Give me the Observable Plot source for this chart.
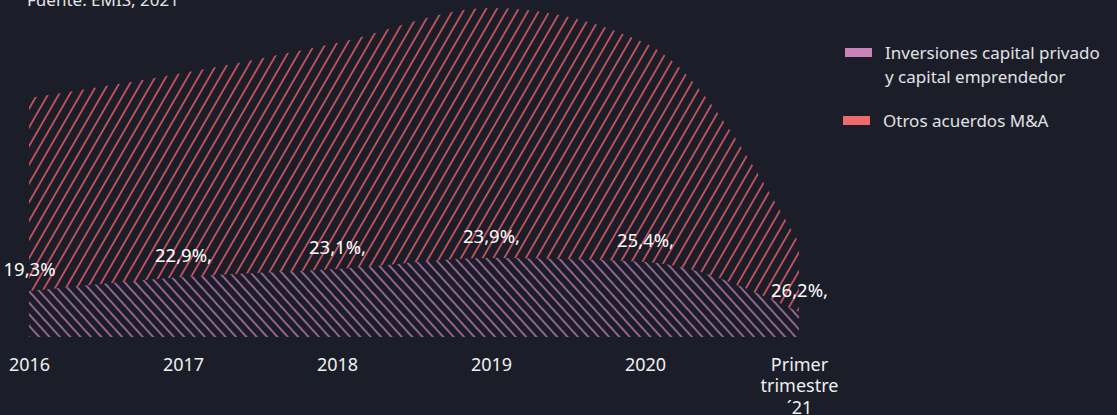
<!DOCTYPE html>
<html><head><meta charset="utf-8">
<script src="https://cdn.jsdelivr.net/npm/d3@7"></script>
<script src="https://cdn.jsdelivr.net/npm/@observablehq/plot@0.6"></script>
<style>
html,body{margin:0;padding:0;background:#1b1e29;}
#wrap{position:relative;width:1117px;height:415px;overflow:hidden;font-family:"Noto Sans",sans-serif;}
#sub{position:absolute;left:27px;top:-12px;font-size:17px;color:#e4e4e4;white-space:nowrap;}
.sw{position:absolute;width:27px;height:9px;}
.lg{position:absolute;font-size:17px;color:#e2e2e2;line-height:24px;white-space:nowrap;}
#chart{position:absolute;left:0;top:0;}
</style>
</head><body>
<div id="wrap">
  <div id="chart"></div>
  <div id="sub">Fuente: EMIS, 2021</div>
  <div class="sw" style="left:845px;top:48px;background:#c983b8"></div>
  <div class="lg" style="left:885px;top:41px">Inversiones capital privado<br>y capital emprendedor</div>
  <div class="sw" style="left:843px;top:116px;background:#ef6b6b"></div>
  <div class="lg" style="left:883px;top:109px">Otros acuerdos M&amp;A</div>
</div>
<script>
const periods = ["2016", "2017", "2018", "2019", "2020", "Q1 2021"];
const tickLabels = ["2016", "2017", "2018", "2019", "2020", "Primer\ntrimestre\n´21"];
const peVc = [46, 60, 68, 79, 75, 25];          // Inversiones capital privado y capital emprendedor
const otros = [193, 204, 226, 250, 219, 69];     // Otros acuerdos M&A
const shareLabels = ["19,3%", "22,9%,", "23,1%,", "23,9%,", "25,4%,", "26,2%,"];

const rows = periods.map((p, i) => ({
  period: p,
  pe: peVc[i],
  total: peVc[i] + otros[i],
  label: shareLabels[i]
}));

const svg = Plot.plot({
  width: 1117,
  height: 415,
  marginTop: 8,
  marginBottom: 78,
  marginLeft: 28,
  marginRight: 317,
  style: {background: "transparent", color: "#f0f0f0", fontFamily: "Noto Sans, sans-serif"},
  x: {type: "point", domain: periods, padding: 0, label: null},
  y: {domain: [0, 329], axis: null},
  marks: [
    Plot.areaY(rows, {x: "period", y1: 0, y2: "pe", fill: "url(#hatchPink)", curve: "monotone-x"}),
    Plot.areaY(rows, {x: "period", y1: "pe", y2: "total", fill: "url(#hatchRed)", curve: "monotone-x"}),
    Plot.text(rows, {x: "period", y: "pe", text: "label", dy: -21, fill: "#ffffff", fontSize: 18.5}),
    Plot.axisX({tickSize: 0, tickPadding: 18, fontSize: 18, lineHeight: 1.2, label: null,
      tickFormat: d => tickLabels[periods.indexOf(d)]})
  ]
});

const defs = d3.select(svg).insert("defs", ":first-child");
const red = defs.append("pattern").attr("id", "hatchRed").attr("patternUnits", "userSpaceOnUse")
  .attr("width", 9.35).attr("height", 9.35).attr("patternTransform", "rotate(30)");
red.append("line").attr("x1", 4.7).attr("x2", 4.7).attr("y1", -2).attr("y2", 12)
  .attr("stroke", "#ea5d67").attr("stroke-width", 1.5);
const pink = defs.append("pattern").attr("id", "hatchPink").attr("patternUnits", "userSpaceOnUse")
  .attr("width", 7.7).attr("height", 7.7).attr("patternTransform", "rotate(-42)");
pink.append("line").attr("x1", 3.85).attr("x2", 3.85).attr("y1", -2).attr("y2", 10)
  .attr("stroke", "#c67dba").attr("stroke-width", 1.4);

document.getElementById("chart").appendChild(svg);
</script>
</body></html>
